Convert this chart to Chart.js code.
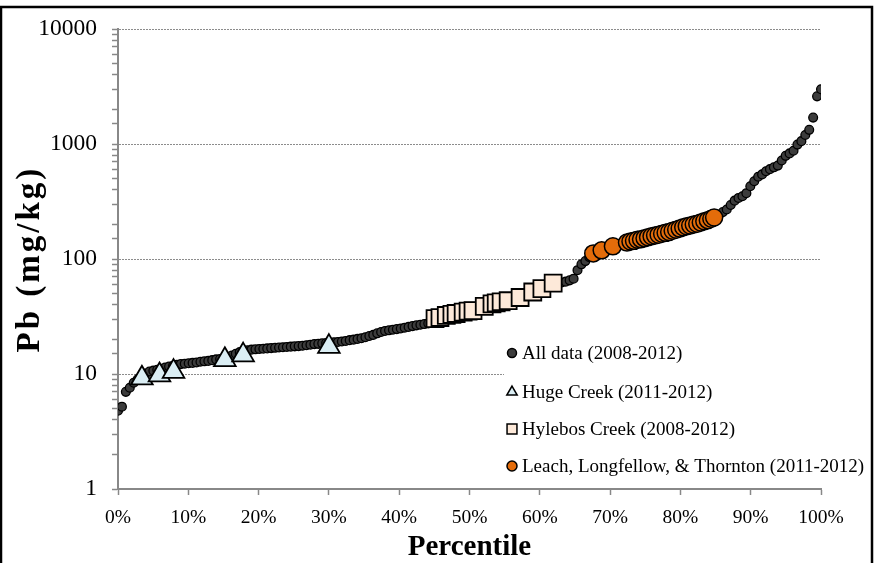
<!DOCTYPE html>
<html>
<head>
<meta charset="utf-8">
<script src="https://cdn.jsdelivr.net/npm/chart.js@4.4.1/dist/chart.umd.min.js"></script>
<style>
  html, body { margin: 0; padding: 0; background: #ffffff; }
  #wrap { width: 875px; height: 563px; position: relative; }
  canvas { display: block; }
</style>
</head>
<body>
<div id="wrap"><canvas id="chart" width="875" height="563"></canvas></div>
<script>
// Pb concentrations (mg/kg), all samples 2008-2012, sorted ascending
const allPb = [
  4.8, 5.2, 7.0, 7.6, 8.4, 9.0, 9.5, 10.1, 10.5, 10.7,
  10.9, 11.1, 11.4, 11.6, 11.8, 12.0, 12.2, 12.3, 12.4, 12.5,
  12.6, 12.8, 12.9, 13.0, 13.2, 13.4, 13.5, 13.7, 14.1, 14.5,
  15.0, 15.5, 15.9, 16.1, 16.3, 16.4, 16.5, 16.6, 16.7, 16.8,
  16.9, 17.0, 17.1, 17.2, 17.3, 17.4, 17.5, 17.6, 17.8, 18.0,
  18.2, 18.3, 18.5, 18.6, 18.7, 18.9, 19.0, 19.2, 19.4, 19.7,
  19.9, 20.2, 20.5, 20.9, 21.4, 21.9, 22.6, 23.2, 23.7, 24.0,
  24.3, 24.6, 24.9, 25.3, 25.7, 26.1, 26.5, 26.8, 27.2, 27.6,
  28.1, 29.0, 29.8, 30.4, 31.0, 31.6, 32.2, 32.8, 33.4, 34.1,
  34.8, 35.5, 36.4, 37.3, 38.2, 39.3, 40.4, 41.4, 42.2, 43.0,
  43.8, 44.7, 45.7, 46.9, 48.3, 50.0, 51.9, 53.6, 55.2, 57.0,
  58.6, 60.2, 61.5, 62.6, 63.6, 65.3, 67.5, 80, 90, 96,
  104, 110, 114, 118, 122, 126, 129, 133, 136, 139,
  141, 143, 146, 149, 152, 155, 158, 161, 164, 167,
  171, 175, 179, 184, 189, 194, 197, 201, 206, 211,
  217, 224, 231, 242, 256, 270, 295, 322, 340, 352,
  374, 430, 475, 520, 545, 580, 605, 628, 650, 720,
  790, 830, 875, 990, 1060, 1200, 1330, 1700, 2600, 3000
];

// Huge Creek (2011-2012)
const hugePct = [3.4, 5.9, 7.9, 15.2, 17.8, 30.0];
const hugePb  = [9.2, 9.8, 10.5, 13.3, 14.6, 17.3];

// Hylebos Creek (2008-2012)
const hylebosPct = [45.1, 45.8, 46.7, 47.5, 48.1, 49.1, 49.8, 50.5, 52.1, 53.2, 53.8, 54.5, 55.5, 57.2, 59.0, 60.3, 61.9];
const hylebosPb  = [30.3, 31.0, 32.3, 33.0, 33.6, 34.5, 35.2, 35.6, 38.7, 40.8, 41.6, 42.5, 43.4, 46.3, 51.7, 55.3, 61.8];

// Leach, Longfellow, & Thornton (2011-2012)
const leachPct = [67.6, 68.8, 70.4, 72.4, 72.9, 73.4, 73.9, 74.4, 74.9, 75.4, 75.9, 76.4, 76.9, 77.4, 77.9,
                  78.4, 78.9, 79.4, 79.9, 80.4, 80.9, 81.4, 81.9, 82.4, 82.9, 83.4, 83.9, 84.4, 84.8];
const leachPb  = [112, 119, 129, 139, 142, 144, 147, 149, 152, 155, 158, 160, 163, 166, 169,
                  172, 176, 180, 184, 189, 193, 196, 200, 203, 208, 213, 218, 224, 230];

const seriesNames = [
  'All data (2008-2012)',
  'Huge Creek (2011-2012)',
  'Hylebos Creek (2008-2012)',
  'Leach, Longfellow, & Thornton (2011-2012)'
];
const yTickLabels = [1, 10, 100, 1000, 10000];

const SERIF = "'Liberation Serif', 'Times New Roman', serif";

// percentile rank of each sorted sample
const allPct = allPb.map((_, i) => i / (allPb.length - 1) * 100);
const toPoints = (xs, ys) => xs.map((x, i) => ({ x: x, y: ys[i] }));

const styles = [
  { pointStyle: 'circle',   radius: 4.4, bg: '#3c3c3c', border: '#000000', bw: 1.3, legendRadius: 4.5 },
  { pointStyle: 'triangle', radius: 12.5, bg: '#dbeef4', border: '#000000', bw: 1.8, legendRadius: 6 },
  { pointStyle: 'rect',     radius: 12,  bg: '#fde9d9', border: '#000000', bw: 1.8, legendRadius: 7 },
  { pointStyle: 'circle',   radius: 8.5, bg: '#e46c0a', border: '#000000', bw: 1.5, legendRadius: 5 }
];

const pointSets = [
  toPoints(allPct, allPb),
  toPoints(hugePct, hugePb),
  toPoints(hylebosPct, hylebosPb),
  toPoints(leachPct, leachPb)
];

const datasets = pointSets.map((pts, i) => ({
  label: seriesNames[i],
  data: pts,
  order: 4 - i,
  pointStyle: styles[i].pointStyle,
  pointRadius: styles[i].radius,
  backgroundColor: styles[i].bg,
  borderColor: styles[i].border,
  borderWidth: styles[i].bw,
  showLine: false
}));

// legend panel drawn on top of the plot, partly outside the plot area
const legendPanel = {
  id: 'legendPanel',
  afterDraw(chart) {
    const ctx = chart.ctx;
    ctx.save();
    ctx.fillStyle = '#ffffff';
    ctx.fillRect(504, 338, 366, 146);
    const rows = [353, 392, 429, 466];
    chart.data.datasets.forEach((ds, i) => {
      const st = styles[i];
      ctx.fillStyle = st.bg;
      ctx.strokeStyle = st.border;
      ctx.lineWidth = 1.5;
      Chart.helpers.drawPoint(ctx, { pointStyle: st.pointStyle, radius: st.legendRadius, borderWidth: 1.5, rotation: 0 }, 512, rows[i]);
      ctx.fillStyle = '#000000';
      ctx.font = '19px ' + SERIF;
      ctx.textBaseline = 'middle';
      ctx.textAlign = 'left';
      ctx.fillText(ds.label, 522, rows[i] + 1);
    });
    ctx.restore();
  }
};

// outer frame around the figure
const frame = {
  id: 'frame',
  afterDraw(chart) {
    const ctx = chart.ctx;
    ctx.save();
    ctx.strokeStyle = '#000000';
    ctx.lineWidth = 2.5;
    ctx.strokeRect(1, 7, 871, 600);
    ctx.restore();
  }
};

// the vertical axis title is set a little more loosely
function spaceOutTitle(scale) {
  if (scale._spacedTitle) return;
  scale._spacedTitle = true;
  const drawTitle = scale.drawTitle.bind(scale);
  scale.drawTitle = function () {
    const ctx = scale.ctx;
    const prev = ctx.letterSpacing;
    ctx.letterSpacing = '3px';
    drawTitle();
    ctx.letterSpacing = prev || '0px';
  };
}

new Chart(document.getElementById('chart'), {
  type: 'scatter',
  data: { datasets: datasets },
  plugins: [legendPanel, frame],
  options: {
    responsive: false,
    animation: false,
    events: [],
    layout: { padding: { left: 0, right: 54, top: 29, bottom: 0 } },
    plugins: {
      legend: { display: false },
      tooltip: { enabled: false }
    },
    scales: {
      x: {
        type: 'linear',
        min: 0,
        max: 100,
        afterFit: (s) => { s.height = 74; },
        ticks: {
          stepSize: 10,
          color: '#000000',
          font: { family: SERIF, size: 19.5 },
          padding: 11,
          maxRotation: 0,
          callback: (v) => v + '%'
        },
        grid: {
          drawOnChartArea: false,
          drawTicks: true,
          tickLength: 6,
          tickColor: '#888888',
          tickWidth: 1.5
        },
        border: { color: '#888888', width: 2 },
        title: {
          display: true,
          text: 'Percentile',
          color: '#000000',
          font: { family: SERIF, size: 29, weight: 'bold', lineHeight: 1 },
          padding: { top: 0, bottom: 1 }
        }
      },
      y: {
        type: 'logarithmic',
        min: 1,
        max: 10000,
        afterFit: (s) => { s.width = 118; spaceOutTitle(s); },
        ticks: {
          autoSkip: false,
          color: '#000000',
          font: { family: SERIF, size: 23.5 },
          padding: 15,
          callback: (v) => yTickLabels.includes(v) ? String(v) : ''
        },
        grid: {
          drawOnChartArea: true,
          tickLength: 6,
          tickWidth: 1.5,
          tickColor: '#888888',
          lineWidth: 1,
          color: (c) => (c.tick && c.tick.major && c.tick.value > 1) ? '#8c8c8c' : 'rgba(0,0,0,0)'
        },
        border: { color: '#888888', width: 2, dash: [2, 1] },
        title: {
          display: true,
          text: 'Pb (mg/kg)',
          color: '#000000',
          font: { family: SERIF, size: 33, weight: 'bold', lineHeight: 1 },
          padding: { top: 14, bottom: 0 }
        }
      }
    }
  }
});
</script>
</body>
</html>
